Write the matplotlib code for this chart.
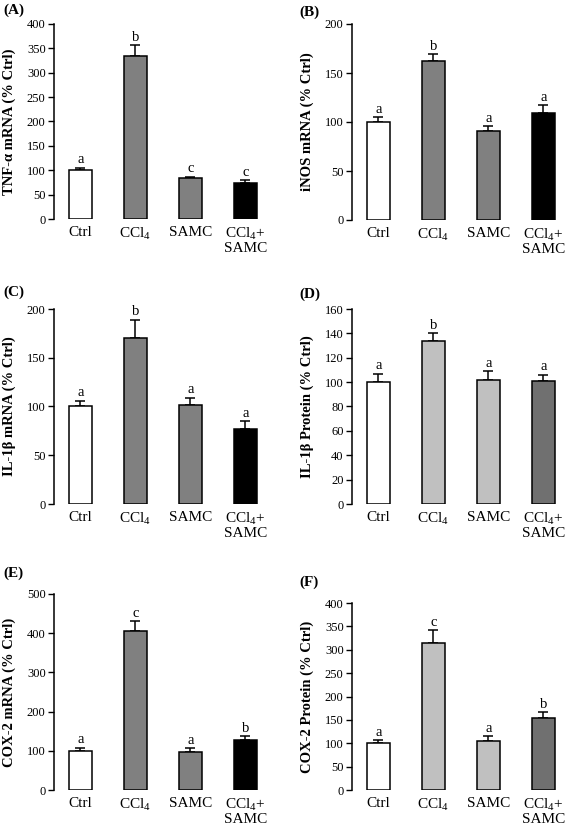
import matplotlib
matplotlib.use("Agg")
import matplotlib.pyplot as plt

plt.rcParams['font.family'] = ['Liberation Serif', 'DejaVu Serif']
plt.rcParams['mathtext.fontset'] = 'custom'
plt.rcParams['mathtext.rm'] = 'Liberation Serif'
plt.rcParams['mathtext.it'] = 'Liberation Serif:italic'
plt.rcParams['mathtext.bf'] = 'Liberation Serif:bold'

groups = ['Ctrl', 'CCl$_4$', 'SAMC', 'CCl$_4$+\nSAMC']

tnf_vals = [100, 334, 84, 74]
tnf_err = [5, 22, 3, 6]
tnf_sig = ['a', 'b', 'c', 'c']

inos_vals = [100, 162, 91, 109]
inos_err = [5, 7, 5, 8]
inos_sig = ['a', 'b', 'a', 'a']

il1_mrna_vals = [100, 170, 102, 77]
il1_mrna_err = [6, 19, 7, 8]
il1_mrna_sig = ['a', 'b', 'a', 'a']

il1_prot_vals = [100, 134, 102, 101]
il1_prot_err = [7, 6, 7, 5]
il1_prot_sig = ['a', 'b', 'a', 'a']

cox_mrna_vals = [100, 405, 97, 127]
cox_mrna_err = [8, 25, 10, 10]
cox_mrna_sig = ['a', 'c', 'a', 'b']

cox_prot_vals = [100, 315, 105, 155]
cox_prot_err = [6, 27, 10, 11]
cox_prot_sig = ['a', 'c', 'a', 'b']

mrna_colors = ['white', '#808080', '#808080', 'black']
prot_colors = ['white', '#c0c0c0', '#c0c0c0', '#707070']

W, H = 568, 830
fig = plt.figure(figsize=(W / 100, H / 100), dpi=100)

# (tag, ylabel, values, errors, letters, colors, ymax, ystep, axis-left px, top px, zero px, tag pos)
panels = [
    ('(A)', 'TNF-α mRNA (% Ctrl)', tnf_vals, tnf_err, tnf_sig, mrna_colors, 400, 50, 54, 24, 219, (3, 10)),
    ('(B)', 'iNOS mRNA (% Ctrl)', inos_vals, inos_err, inos_sig, mrna_colors, 200, 50, 352, 24, 220, (299, 12)),
    ('(C)', 'IL-1β mRNA (% Ctrl)', il1_mrna_vals, il1_mrna_err, il1_mrna_sig, mrna_colors, 200, 50, 54, 309, 504, (3, 292)),
    ('(D)', 'IL-1β Protein (% Ctrl)', il1_prot_vals, il1_prot_err, il1_prot_sig, prot_colors, 160, 20, 352, 309, 504, (299, 294)),
    ('(E)', 'COX-2 mRNA (% Ctrl)', cox_mrna_vals, cox_mrna_err, cox_mrna_sig, mrna_colors, 500, 100, 54, 594, 790, (3, 573)),
    ('(F)', 'COX-2 Protein (% Ctrl)', cox_prot_vals, cox_prot_err, cox_prot_sig, prot_colors, 400, 50, 352, 603, 790, (299, 582)),
]

spacing = 55.0
x0, x1 = -0.48, 3.42

for tag, ylab, vals, errs, sig, cols, ymax, ystep, left, top, zero, tagpos in panels:
    wpx = (x1 - x0) * spacing
    ax = fig.add_axes([left / W, 1 - zero / H, wpx / W, (zero - top) / H])
    xs = range(len(vals))
    ax.bar(xs, vals, width=0.41, color=cols, edgecolor='black', linewidth=1.1, zorder=2)
    ax.errorbar(xs, vals, yerr=[[0] * len(errs), errs], fmt='none', ecolor='black',
                elinewidth=1.1, capsize=3.5, capthick=1.1, zorder=1)
    for x, v, e, s in zip(xs, vals, errs, sig):
        ax.annotate(s, (x, v + e), xytext=(0, 1), textcoords='offset points',
                    ha='center', va='bottom', fontsize=10.5)
    ax.set_xlim(x0, x1)
    ax.set_ylim(0, ymax)
    ax.set_yticks(range(0, ymax + 1, ystep))
    ax.set_xticks(list(xs))
    ax.set_xticklabels(groups, fontsize=11, linespacing=1.0)
    ax.tick_params(axis='x', length=0, pad=5)
    ax.tick_params(axis='y', length=4, width=1, labelsize=9, pad=2, direction='out')
    for sp in ['top', 'right', 'bottom']:
        ax.spines[sp].set_visible(False)
    ax.spines['left'].set_linewidth(1.1)
    ax.set_ylabel(ylab, fontsize=10.5, fontweight='bold')
    ax.yaxis.set_label_coords(-38 / wpx, 0.5)
    fig.text(tagpos[0] / W, 1 - tagpos[1] / H, tag, fontsize=11, fontweight='bold',
             ha='left', va='center')

fig.savefig('out.png', dpi=100)
